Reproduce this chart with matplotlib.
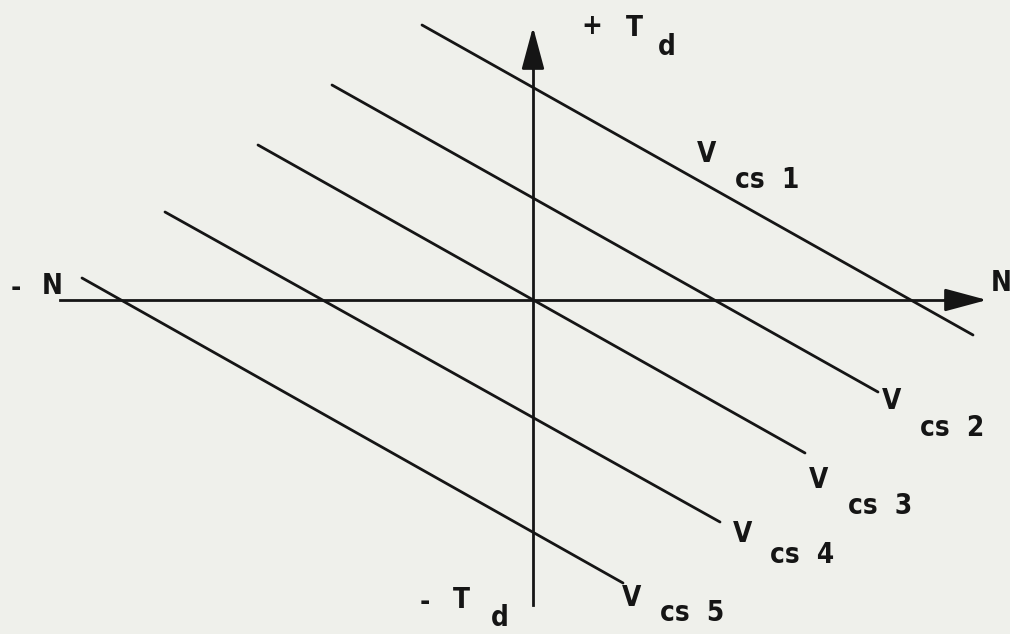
import matplotlib
matplotlib.use("Agg")
import matplotlib.pyplot as plt

# Diagram coordinates: origin at intersection of N and T_d axes
line_labels = ["1", "2", "3", "4", "5"]
n_start = [-111, -201, -275, -368, -451]
t_start = [275, 215, 155, 88, 22]
n_end = [440, 345, 272, 187, 90]
t_end = [-35, -92, -153, -222, -283]

# Label anchors: "V" centre and "cs n" left/centre for each line
v_n = [174, 359, 286, 210, 99]
v_t = [146, -101, -180, -234, -298]
cs_n = [202, 387, 315, 237, 127]
cs_t = [120, -128, -206, -255, -313]

axis_n_range = [-473, 454]
axis_t_range = [-305, 273]

bg = "#eff0eb"
ink = "#151515"
font = dict(family="DejaVu Sans", fontstretch="condensed", fontweight="bold",
            fontsize=20, color=ink)

fig = plt.figure(figsize=(10.10, 6.34), dpi=100, facecolor=bg)
ax = fig.add_axes([0, 0, 1, 1])
ax.set_facecolor(bg)
ax.set_xlim(-533, 477)
ax.set_ylim(-334, 300)
ax.axis("off")

lw = 2.0
arrow = dict(arrowstyle="-|>,head_length=1.3,head_width=0.35",
             mutation_scale=20, color=ink, lw=lw, shrinkA=0, shrinkB=0)

# axes with arrows
ax.plot([axis_n_range[0], axis_n_range[1] - 30], [0, 0], color=ink, lw=lw)
ax.annotate("", xy=(axis_n_range[1], 0), xytext=(axis_n_range[1] - 42, 0), arrowprops=arrow)
ax.plot([0, 0], [axis_t_range[0], axis_t_range[1] - 30], color=ink, lw=lw)
ax.annotate("", xy=(0, axis_t_range[1]), xytext=(0, axis_t_range[1] - 42), arrowprops=arrow)

# V_cs lines
for i in range(len(line_labels)):
    ax.plot([n_start[i], n_end[i]], [t_start[i], t_end[i]], color=ink, lw=lw,
            solid_capstyle="round")
    ax.text(v_n[i], v_t[i], "V", ha="center", va="center", **font)
    ax.text(cs_n[i], cs_t[i], "cs  " + line_labels[i], ha="left", va="center", **font)

ax.text(59, 274, "+", ha="center", va="center", **font)
ax.text(101, 272, "T", ha="center", va="center", **font)
ax.text(134, 253, "d", ha="center", va="center", **font)

ax.text(-517, 12, "-", ha="center", va="center", **font)
ax.text(-481, 14, "N", ha="center", va="center", **font)
ax.text(458, 17, "N", ha="left", va="center", **font)

ax.text(-108, -302, "-", ha="center", va="center", **font)
ax.text(-72, -300, "T", ha="center", va="center", **font)
ax.text(-33, -318, "d", ha="center", va="center", **font)

fig.savefig("out.png", dpi=100, facecolor=bg)
